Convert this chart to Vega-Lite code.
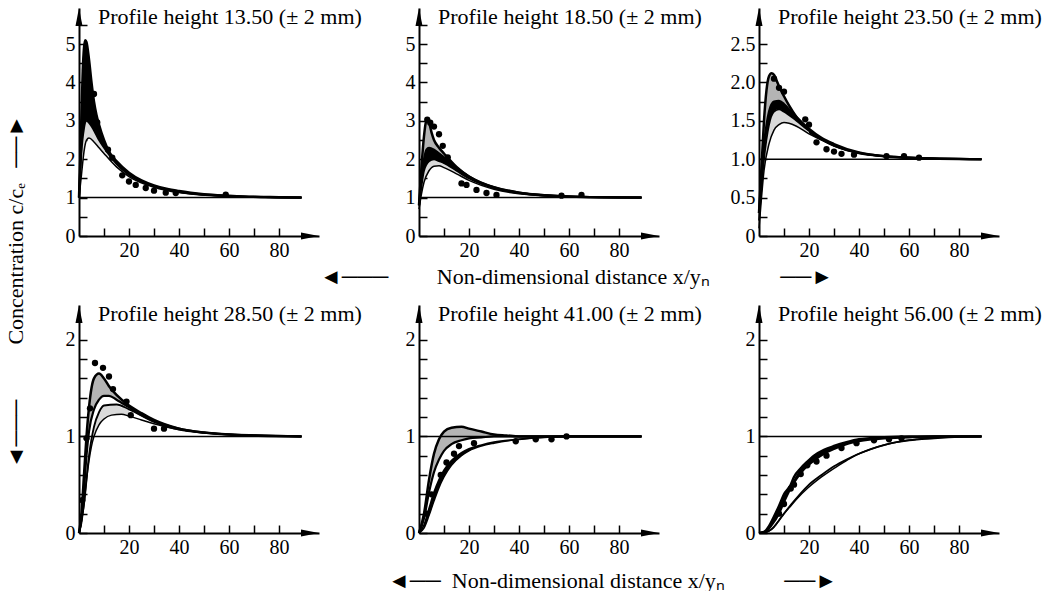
{
  "$schema": "https://vega.github.io/schema/vega-lite/v6.json",
  "padding": {"left": 4, "top": 6, "right": 0, "bottom": 0},
  "autosize": {"type": "pad"},
  "background": "white",
  "config": {
    "view": {"stroke": null},
    "font": "Liberation Serif",
    "title": {"anchor": "start", "frame": "group", "offset": 0, "dx": 19, "dy": 25, "baseline": "alphabetic", "fontSize": 22, "fontWeight": "normal", "font": "Liberation Serif", "color": "black"},
    "axis": {"grid": false, "domainColor": "black", "domainWidth": 2, "tickColor": "black", "tickWidth": 1.5, "tickSize": -8, "tickCount": 50, "labelFont": "Liberation Serif", "labelFontSize": 20, "labelColor": "black", "labelPadding": 12, "labelOverlap": false, "labelFlush": false, "titleFont": "Liberation Serif", "titleFontSize": 22, "titleFontWeight": "normal", "titleColor": "black"}
  },
  "datasets": {
    "bands": [
      {"p":1,"k":"solid","x":0.5,"lo":1.6,"hi":2.0},{"p":1,"k":"solid","x":1,"lo":2.2,"hi":3.2},{"p":1,"k":"solid","x":1.5,"lo":2.5,"hi":4.3},{"p":1,"k":"solid","x":2,"lo":2.8,"hi":4.9},{"p":1,"k":"solid","x":2.5,"lo":2.9,"hi":5.1},{"p":1,"k":"solid","x":3,"lo":3.0,"hi":5.05},{"p":1,"k":"solid","x":4,"lo":2.95,"hi":4.6},{"p":1,"k":"solid","x":5,"lo":2.85,"hi":4.0},{"p":1,"k":"solid","x":6,"lo":2.75,"hi":3.5},{"p":1,"k":"solid","x":7,"lo":2.62,"hi":3.15},{"p":1,"k":"solid","x":8,"lo":2.5,"hi":2.9},{"p":1,"k":"solid","x":10,"lo":2.3,"hi":2.5},{"p":1,"k":"solid","x":12,"lo":2.12,"hi":2.2},{"p":1,"k":"solid","x":15,"lo":1.88,"hi":1.95},{"p":1,"k":"solid","x":20,"lo":1.6,"hi":1.65},{"p":1,"k":"solid","x":30,"lo":1.3,"hi":1.32},{"p":1,"k":"solid","x":40,"lo":1.15,"hi":1.17},{"p":1,"k":"solid","x":60,"lo":1.04,"hi":1.05},
      {"p":1,"k":"stipple","x":1,"lo":1.6,"hi":2.2},{"p":1,"k":"stipple","x":2,"lo":2.2,"hi":2.8},{"p":1,"k":"stipple","x":3,"lo":2.5,"hi":3.0},{"p":1,"k":"stipple","x":4,"lo":2.55,"hi":2.95},{"p":1,"k":"stipple","x":6,"lo":2.45,"hi":2.75},{"p":1,"k":"stipple","x":8,"lo":2.3,"hi":2.5},{"p":1,"k":"stipple","x":10,"lo":2.15,"hi":2.3},{"p":1,"k":"stipple","x":15,"lo":1.8,"hi":1.88},{"p":1,"k":"stipple","x":20,"lo":1.55,"hi":1.6},

      {"p":2,"k":"hatch","x":1,"lo":1.5,"hi":1.8},{"p":2,"k":"hatch","x":2,"lo":2.0,"hi":2.6},{"p":2,"k":"hatch","x":3,"lo":2.25,"hi":3.0},{"p":2,"k":"hatch","x":4,"lo":2.3,"hi":2.95},{"p":2,"k":"hatch","x":5,"lo":2.28,"hi":2.7},{"p":2,"k":"hatch","x":6,"lo":2.25,"hi":2.5},{"p":2,"k":"hatch","x":8,"lo":2.15,"hi":2.3},{"p":2,"k":"hatch","x":10,"lo":2.05,"hi":2.15},{"p":2,"k":"hatch","x":15,"lo":1.78,"hi":1.8},
      {"p":2,"k":"solid","x":0,"lo":0.8,"hi":0.8},{"p":2,"k":"solid","x":1,"lo":1.3,"hi":1.5},{"p":2,"k":"solid","x":2,"lo":1.7,"hi":2.0},{"p":2,"k":"solid","x":4,"lo":1.95,"hi":2.3},{"p":2,"k":"solid","x":6,"lo":2.0,"hi":2.25},{"p":2,"k":"solid","x":8,"lo":1.95,"hi":2.15},{"p":2,"k":"solid","x":10,"lo":1.9,"hi":2.05},{"p":2,"k":"solid","x":15,"lo":1.7,"hi":1.78},{"p":2,"k":"solid","x":20,"lo":1.5,"hi":1.55},{"p":2,"k":"solid","x":30,"lo":1.25,"hi":1.27},{"p":2,"k":"solid","x":40,"lo":1.12,"hi":1.13},
      {"p":2,"k":"stipple","x":1,"lo":1.1,"hi":1.3},{"p":2,"k":"stipple","x":2,"lo":1.4,"hi":1.7},{"p":2,"k":"stipple","x":4,"lo":1.7,"hi":1.95},{"p":2,"k":"stipple","x":6,"lo":1.82,"hi":2.0},{"p":2,"k":"stipple","x":8,"lo":1.83,"hi":1.95},{"p":2,"k":"stipple","x":10,"lo":1.78,"hi":1.9},{"p":2,"k":"stipple","x":15,"lo":1.62,"hi":1.7},{"p":2,"k":"stipple","x":20,"lo":1.45,"hi":1.5},

      {"p":3,"k":"hatch","x":1,"lo":0.8,"hi":0.9},{"p":3,"k":"hatch","x":2,"lo":1.2,"hi":1.5},{"p":3,"k":"hatch","x":3,"lo":1.45,"hi":1.9},{"p":3,"k":"hatch","x":4,"lo":1.62,"hi":2.08},{"p":3,"k":"hatch","x":5,"lo":1.7,"hi":2.12},{"p":3,"k":"hatch","x":6,"lo":1.75,"hi":2.1},{"p":3,"k":"hatch","x":8,"lo":1.76,"hi":1.95},{"p":3,"k":"hatch","x":10,"lo":1.72,"hi":1.82},{"p":3,"k":"hatch","x":12,"lo":1.65,"hi":1.7},{"p":3,"k":"hatch","x":15,"lo":1.55,"hi":1.55},
      {"p":3,"k":"solid","x":0,"lo":0.1,"hi":0.3},{"p":3,"k":"solid","x":1,"lo":0.5,"hi":0.8},{"p":3,"k":"solid","x":2,"lo":1.0,"hi":1.2},{"p":3,"k":"solid","x":4,"lo":1.45,"hi":1.62},{"p":3,"k":"solid","x":6,"lo":1.62,"hi":1.75},{"p":3,"k":"solid","x":8,"lo":1.65,"hi":1.76},{"p":3,"k":"solid","x":10,"lo":1.62,"hi":1.72},{"p":3,"k":"solid","x":15,"lo":1.48,"hi":1.55},{"p":3,"k":"solid","x":20,"lo":1.34,"hi":1.4},{"p":3,"k":"solid","x":25,"lo":1.25,"hi":1.28},{"p":3,"k":"solid","x":30,"lo":1.17,"hi":1.2},{"p":3,"k":"solid","x":40,"lo":1.08,"hi":1.09},
      {"p":3,"k":"stipple","x":2,"lo":0.85,"hi":1.0},{"p":3,"k":"stipple","x":4,"lo":1.2,"hi":1.45},{"p":3,"k":"stipple","x":6,"lo":1.38,"hi":1.62},{"p":3,"k":"stipple","x":8,"lo":1.45,"hi":1.65},{"p":3,"k":"stipple","x":10,"lo":1.48,"hi":1.62},{"p":3,"k":"stipple","x":15,"lo":1.43,"hi":1.5},{"p":3,"k":"stipple","x":20,"lo":1.33,"hi":1.37},

      {"p":4,"k":"hatch","x":2,"lo":0.45,"hi":0.6},{"p":4,"k":"hatch","x":3,"lo":0.8,"hi":1.0},{"p":4,"k":"hatch","x":4,"lo":1.05,"hi":1.3},{"p":4,"k":"hatch","x":5,"lo":1.18,"hi":1.5},{"p":4,"k":"hatch","x":6,"lo":1.28,"hi":1.6},{"p":4,"k":"hatch","x":8,"lo":1.38,"hi":1.65},{"p":4,"k":"hatch","x":10,"lo":1.42,"hi":1.6},{"p":4,"k":"hatch","x":12,"lo":1.42,"hi":1.52},{"p":4,"k":"hatch","x":15,"lo":1.38,"hi":1.43},{"p":4,"k":"hatch","x":20,"lo":1.3,"hi":1.32},
      {"p":4,"k":"stipple","x":2,"lo":0.3,"hi":0.3},{"p":4,"k":"stipple","x":4,"lo":0.75,"hi":0.8},{"p":4,"k":"stipple","x":6,"lo":1.0,"hi":1.1},{"p":4,"k":"stipple","x":8,"lo":1.12,"hi":1.25},{"p":4,"k":"stipple","x":10,"lo":1.18,"hi":1.32},{"p":4,"k":"stipple","x":13,"lo":1.22,"hi":1.33},{"p":4,"k":"stipple","x":17,"lo":1.23,"hi":1.3},{"p":4,"k":"stipple","x":20,"lo":1.21,"hi":1.28},

      {"p":5,"k":"hatch","x":2,"lo":0.15,"hi":0.2},{"p":5,"k":"hatch","x":4,"lo":0.42,"hi":0.55},{"p":5,"k":"hatch","x":6,"lo":0.63,"hi":0.82},{"p":5,"k":"hatch","x":8,"lo":0.76,"hi":0.97},{"p":5,"k":"hatch","x":10,"lo":0.85,"hi":1.05},{"p":5,"k":"hatch","x":13,"lo":0.92,"hi":1.09},{"p":5,"k":"hatch","x":17,"lo":0.96,"hi":1.1},{"p":5,"k":"hatch","x":20,"lo":0.98,"hi":1.08},{"p":5,"k":"hatch","x":25,"lo":0.99,"hi":1.05},{"p":5,"k":"hatch","x":30,"lo":1.0,"hi":1.02},
      {"p":5,"k":"solid","x":2,"lo":0.05,"hi":0.08},{"p":5,"k":"solid","x":4,"lo":0.18,"hi":0.25},{"p":5,"k":"solid","x":6,"lo":0.33,"hi":0.42},{"p":5,"k":"solid","x":8,"lo":0.47,"hi":0.55},{"p":5,"k":"solid","x":10,"lo":0.58,"hi":0.65},{"p":5,"k":"solid","x":13,"lo":0.7,"hi":0.75},{"p":5,"k":"solid","x":17,"lo":0.8,"hi":0.83},{"p":5,"k":"solid","x":20,"lo":0.85,"hi":0.87},{"p":5,"k":"solid","x":25,"lo":0.9,"hi":0.91},{"p":5,"k":"solid","x":30,"lo":0.93,"hi":0.94},

      {"p":6,"k":"solid","x":4,"lo":0.04,"hi":0.07},{"p":6,"k":"solid","x":6,"lo":0.12,"hi":0.17},{"p":6,"k":"solid","x":8,"lo":0.2,"hi":0.28},{"p":6,"k":"solid","x":10,"lo":0.32,"hi":0.4},{"p":6,"k":"solid","x":12,"lo":0.43,"hi":0.47},{"p":6,"k":"solid","x":15,"lo":0.56,"hi":0.6},{"p":6,"k":"solid","x":18,"lo":0.66,"hi":0.7},{"p":6,"k":"solid","x":22,"lo":0.75,"hi":0.8},{"p":6,"k":"solid","x":26,"lo":0.82,"hi":0.86},{"p":6,"k":"solid","x":30,"lo":0.87,"hi":0.9},{"p":6,"k":"solid","x":35,"lo":0.92,"hi":0.94},{"p":6,"k":"solid","x":40,"lo":0.95,"hi":0.97},{"p":6,"k":"solid","x":50,"lo":0.98,"hi":0.99}
    ],
    "curves": [
      {"p":1,"c":"a","x":0,"y":1},{"p":1,"c":"a","x":0.5,"y":2},{"p":1,"c":"a","x":1,"y":3.2},{"p":1,"c":"a","x":1.5,"y":4.3},{"p":1,"c":"a","x":2,"y":4.9},{"p":1,"c":"a","x":2.5,"y":5.1},{"p":1,"c":"a","x":3,"y":5.05},{"p":1,"c":"a","x":4,"y":4.6},{"p":1,"c":"a","x":5,"y":4.0},{"p":1,"c":"a","x":6,"y":3.5},{"p":1,"c":"a","x":7,"y":3.15},{"p":1,"c":"a","x":8,"y":2.9},{"p":1,"c":"a","x":10,"y":2.5},{"p":1,"c":"a","x":12,"y":2.2},{"p":1,"c":"a","x":15,"y":1.95},{"p":1,"c":"a","x":20,"y":1.65},{"p":1,"c":"a","x":25,"y":1.45},{"p":1,"c":"a","x":30,"y":1.32},{"p":1,"c":"a","x":35,"y":1.23},{"p":1,"c":"a","x":40,"y":1.17},{"p":1,"c":"a","x":50,"y":1.09},{"p":1,"c":"a","x":60,"y":1.05},{"p":1,"c":"a","x":70,"y":1.02},{"p":1,"c":"a","x":80,"y":1.01},{"p":1,"c":"a","x":89,"y":1},
      {"p":1,"c":"b","x":0,"y":1},{"p":1,"c":"b","x":1,"y":2.5},{"p":1,"c":"b","x":2,"y":3.6},{"p":1,"c":"b","x":3,"y":3.9},{"p":1,"c":"b","x":4,"y":3.7},{"p":1,"c":"b","x":5,"y":3.4},{"p":1,"c":"b","x":6,"y":3.1},{"p":1,"c":"b","x":8,"y":2.7},{"p":1,"c":"b","x":10,"y":2.4},{"p":1,"c":"b","x":15,"y":1.9},{"p":1,"c":"b","x":20,"y":1.6},{"p":1,"c":"b","x":30,"y":1.3},{"p":1,"c":"b","x":40,"y":1.15},{"p":1,"c":"b","x":50,"y":1.08},{"p":1,"c":"b","x":60,"y":1.04},{"p":1,"c":"b","x":89,"y":1},
      {"p":1,"c":"c","x":0,"y":1},{"p":1,"c":"c","x":1,"y":2.2},{"p":1,"c":"c","x":2,"y":2.8},{"p":1,"c":"c","x":3,"y":3.0},{"p":1,"c":"c","x":4,"y":2.95},{"p":1,"c":"c","x":6,"y":2.75},{"p":1,"c":"c","x":8,"y":2.5},{"p":1,"c":"c","x":10,"y":2.3},{"p":1,"c":"c","x":15,"y":1.88},{"p":1,"c":"c","x":20,"y":1.6},{"p":1,"c":"c","x":30,"y":1.3},{"p":1,"c":"c","x":40,"y":1.15},{"p":1,"c":"c","x":60,"y":1.04},{"p":1,"c":"c","x":89,"y":1},
      {"p":1,"c":"d","x":0,"y":1},{"p":1,"c":"d","x":1,"y":1.6},{"p":1,"c":"d","x":2,"y":2.2},{"p":1,"c":"d","x":3,"y":2.5},{"p":1,"c":"d","x":4,"y":2.55},{"p":1,"c":"d","x":6,"y":2.45},{"p":1,"c":"d","x":8,"y":2.3},{"p":1,"c":"d","x":10,"y":2.15},{"p":1,"c":"d","x":15,"y":1.8},{"p":1,"c":"d","x":20,"y":1.55},{"p":1,"c":"d","x":30,"y":1.27},{"p":1,"c":"d","x":40,"y":1.13},{"p":1,"c":"d","x":60,"y":1.03},{"p":1,"c":"d","x":89,"y":1},

      {"p":2,"c":"a","x":0,"y":0.8},{"p":2,"c":"a","x":1,"y":1.8},{"p":2,"c":"a","x":2,"y":2.6},{"p":2,"c":"a","x":3,"y":3.0},{"p":2,"c":"a","x":4,"y":2.95},{"p":2,"c":"a","x":5,"y":2.7},{"p":2,"c":"a","x":6,"y":2.5},{"p":2,"c":"a","x":8,"y":2.3},{"p":2,"c":"a","x":10,"y":2.15},{"p":2,"c":"a","x":15,"y":1.8},{"p":2,"c":"a","x":20,"y":1.55},{"p":2,"c":"a","x":25,"y":1.38},{"p":2,"c":"a","x":30,"y":1.27},{"p":2,"c":"a","x":40,"y":1.13},{"p":2,"c":"a","x":50,"y":1.06},{"p":2,"c":"a","x":60,"y":1.03},{"p":2,"c":"a","x":70,"y":1.01},{"p":2,"c":"a","x":89,"y":1},
      {"p":2,"c":"b","x":0,"y":0.8},{"p":2,"c":"b","x":1,"y":1.5},{"p":2,"c":"b","x":2,"y":2.0},{"p":2,"c":"b","x":3,"y":2.25},{"p":2,"c":"b","x":4,"y":2.3},{"p":2,"c":"b","x":6,"y":2.25},{"p":2,"c":"b","x":8,"y":2.15},{"p":2,"c":"b","x":10,"y":2.05},{"p":2,"c":"b","x":15,"y":1.78},{"p":2,"c":"b","x":20,"y":1.55},{"p":2,"c":"b","x":30,"y":1.27},{"p":2,"c":"b","x":40,"y":1.13},{"p":2,"c":"b","x":60,"y":1.03},{"p":2,"c":"b","x":89,"y":1},
      {"p":2,"c":"c","x":0,"y":0.8},{"p":2,"c":"c","x":1,"y":1.3},{"p":2,"c":"c","x":2,"y":1.7},{"p":2,"c":"c","x":4,"y":1.95},{"p":2,"c":"c","x":6,"y":2.0},{"p":2,"c":"c","x":8,"y":1.95},{"p":2,"c":"c","x":10,"y":1.9},{"p":2,"c":"c","x":15,"y":1.7},{"p":2,"c":"c","x":20,"y":1.5},{"p":2,"c":"c","x":30,"y":1.25},{"p":2,"c":"c","x":40,"y":1.12},{"p":2,"c":"c","x":60,"y":1.03},{"p":2,"c":"c","x":89,"y":1},
      {"p":2,"c":"d","x":0,"y":0.7},{"p":2,"c":"d","x":1,"y":1.1},{"p":2,"c":"d","x":2,"y":1.4},{"p":2,"c":"d","x":4,"y":1.7},{"p":2,"c":"d","x":6,"y":1.82},{"p":2,"c":"d","x":8,"y":1.83},{"p":2,"c":"d","x":10,"y":1.78},{"p":2,"c":"d","x":15,"y":1.62},{"p":2,"c":"d","x":20,"y":1.45},{"p":2,"c":"d","x":30,"y":1.22},{"p":2,"c":"d","x":40,"y":1.1},{"p":2,"c":"d","x":60,"y":1.02},{"p":2,"c":"d","x":89,"y":1},

      {"p":3,"c":"a","x":0,"y":0.3},{"p":3,"c":"a","x":1,"y":0.9},{"p":3,"c":"a","x":2,"y":1.5},{"p":3,"c":"a","x":3,"y":1.9},{"p":3,"c":"a","x":4,"y":2.08},{"p":3,"c":"a","x":5,"y":2.12},{"p":3,"c":"a","x":6,"y":2.1},{"p":3,"c":"a","x":7,"y":2.03},{"p":3,"c":"a","x":8,"y":1.95},{"p":3,"c":"a","x":10,"y":1.82},{"p":3,"c":"a","x":12,"y":1.7},{"p":3,"c":"a","x":15,"y":1.55},{"p":3,"c":"a","x":20,"y":1.38},{"p":3,"c":"a","x":25,"y":1.26},{"p":3,"c":"a","x":30,"y":1.18},{"p":3,"c":"a","x":40,"y":1.08},{"p":3,"c":"a","x":50,"y":1.04},{"p":3,"c":"a","x":60,"y":1.02},{"p":3,"c":"a","x":89,"y":1},
      {"p":3,"c":"b","x":0,"y":0.3},{"p":3,"c":"b","x":1,"y":0.8},{"p":3,"c":"b","x":2,"y":1.2},{"p":3,"c":"b","x":3,"y":1.45},{"p":3,"c":"b","x":4,"y":1.62},{"p":3,"c":"b","x":6,"y":1.75},{"p":3,"c":"b","x":8,"y":1.76},{"p":3,"c":"b","x":10,"y":1.72},{"p":3,"c":"b","x":12,"y":1.65},{"p":3,"c":"b","x":15,"y":1.55},{"p":3,"c":"b","x":20,"y":1.4},{"p":3,"c":"b","x":25,"y":1.28},{"p":3,"c":"b","x":30,"y":1.2},{"p":3,"c":"b","x":40,"y":1.09},{"p":3,"c":"b","x":50,"y":1.04},{"p":3,"c":"b","x":60,"y":1.02},{"p":3,"c":"b","x":89,"y":1},
      {"p":3,"c":"c","x":0,"y":0.2},{"p":3,"c":"c","x":2,"y":1.0},{"p":3,"c":"c","x":4,"y":1.45},{"p":3,"c":"c","x":6,"y":1.62},{"p":3,"c":"c","x":8,"y":1.65},{"p":3,"c":"c","x":10,"y":1.62},{"p":3,"c":"c","x":15,"y":1.5},{"p":3,"c":"c","x":20,"y":1.37},{"p":3,"c":"c","x":30,"y":1.18},{"p":3,"c":"c","x":40,"y":1.08},{"p":3,"c":"c","x":60,"y":1.02},{"p":3,"c":"c","x":89,"y":1},
      {"p":3,"c":"d","x":0,"y":0.1},{"p":3,"c":"d","x":1,"y":0.5},{"p":3,"c":"d","x":2,"y":0.85},{"p":3,"c":"d","x":4,"y":1.2},{"p":3,"c":"d","x":6,"y":1.38},{"p":3,"c":"d","x":8,"y":1.45},{"p":3,"c":"d","x":10,"y":1.48},{"p":3,"c":"d","x":12,"y":1.47},{"p":3,"c":"d","x":15,"y":1.43},{"p":3,"c":"d","x":20,"y":1.33},{"p":3,"c":"d","x":25,"y":1.25},{"p":3,"c":"d","x":30,"y":1.17},{"p":3,"c":"d","x":40,"y":1.08},{"p":3,"c":"d","x":50,"y":1.04},{"p":3,"c":"d","x":60,"y":1.02},{"p":3,"c":"d","x":89,"y":1},

      {"p":4,"c":"a","x":0,"y":0},{"p":4,"c":"a","x":1,"y":0.2},{"p":4,"c":"a","x":2,"y":0.6},{"p":4,"c":"a","x":3,"y":1.0},{"p":4,"c":"a","x":4,"y":1.3},{"p":4,"c":"a","x":5,"y":1.5},{"p":4,"c":"a","x":6,"y":1.6},{"p":4,"c":"a","x":8,"y":1.65},{"p":4,"c":"a","x":10,"y":1.6},{"p":4,"c":"a","x":12,"y":1.52},{"p":4,"c":"a","x":15,"y":1.43},{"p":4,"c":"a","x":20,"y":1.32},{"p":4,"c":"a","x":25,"y":1.24},{"p":4,"c":"a","x":30,"y":1.17},{"p":4,"c":"a","x":40,"y":1.08},{"p":4,"c":"a","x":50,"y":1.04},{"p":4,"c":"a","x":60,"y":1.02},{"p":4,"c":"a","x":70,"y":1.01},{"p":4,"c":"a","x":89,"y":1},
      {"p":4,"c":"b","x":0,"y":0},{"p":4,"c":"b","x":1,"y":0.15},{"p":4,"c":"b","x":2,"y":0.45},{"p":4,"c":"b","x":3,"y":0.8},{"p":4,"c":"b","x":4,"y":1.05},{"p":4,"c":"b","x":6,"y":1.28},{"p":4,"c":"b","x":8,"y":1.38},{"p":4,"c":"b","x":10,"y":1.42},{"p":4,"c":"b","x":12,"y":1.42},{"p":4,"c":"b","x":15,"y":1.38},{"p":4,"c":"b","x":20,"y":1.3},{"p":4,"c":"b","x":25,"y":1.22},{"p":4,"c":"b","x":30,"y":1.16},{"p":4,"c":"b","x":40,"y":1.08},{"p":4,"c":"b","x":50,"y":1.04},{"p":4,"c":"b","x":60,"y":1.02},{"p":4,"c":"b","x":89,"y":1},
      {"p":4,"c":"c","x":0,"y":0},{"p":4,"c":"c","x":2,"y":0.3},{"p":4,"c":"c","x":4,"y":0.8},{"p":4,"c":"c","x":6,"y":1.1},{"p":4,"c":"c","x":8,"y":1.25},{"p":4,"c":"c","x":10,"y":1.32},{"p":4,"c":"c","x":15,"y":1.33},{"p":4,"c":"c","x":20,"y":1.28},{"p":4,"c":"c","x":30,"y":1.15},{"p":4,"c":"c","x":40,"y":1.07},{"p":4,"c":"c","x":60,"y":1.02},{"p":4,"c":"c","x":89,"y":1},
      {"p":4,"c":"d","x":0,"y":0},{"p":4,"c":"d","x":1,"y":0.1},{"p":4,"c":"d","x":2,"y":0.3},{"p":4,"c":"d","x":3,"y":0.55},{"p":4,"c":"d","x":4,"y":0.75},{"p":4,"c":"d","x":5,"y":0.9},{"p":4,"c":"d","x":6,"y":1.0},{"p":4,"c":"d","x":8,"y":1.12},{"p":4,"c":"d","x":10,"y":1.18},{"p":4,"c":"d","x":13,"y":1.22},{"p":4,"c":"d","x":17,"y":1.23},{"p":4,"c":"d","x":20,"y":1.21},{"p":4,"c":"d","x":25,"y":1.17},{"p":4,"c":"d","x":30,"y":1.13},{"p":4,"c":"d","x":40,"y":1.07},{"p":4,"c":"d","x":50,"y":1.04},{"p":4,"c":"d","x":60,"y":1.02},{"p":4,"c":"d","x":89,"y":1},

      {"p":5,"c":"a","x":0,"y":0},{"p":5,"c":"a","x":2,"y":0.2},{"p":5,"c":"a","x":4,"y":0.55},{"p":5,"c":"a","x":6,"y":0.82},{"p":5,"c":"a","x":8,"y":0.97},{"p":5,"c":"a","x":10,"y":1.05},{"p":5,"c":"a","x":13,"y":1.09},{"p":5,"c":"a","x":17,"y":1.1},{"p":5,"c":"a","x":20,"y":1.08},{"p":5,"c":"a","x":25,"y":1.05},{"p":5,"c":"a","x":30,"y":1.02},{"p":5,"c":"a","x":35,"y":1.01},{"p":5,"c":"a","x":40,"y":1.0},{"p":5,"c":"a","x":89,"y":1},
      {"p":5,"c":"b","x":0,"y":0},{"p":5,"c":"b","x":2,"y":0.15},{"p":5,"c":"b","x":4,"y":0.42},{"p":5,"c":"b","x":6,"y":0.63},{"p":5,"c":"b","x":8,"y":0.76},{"p":5,"c":"b","x":10,"y":0.85},{"p":5,"c":"b","x":13,"y":0.92},{"p":5,"c":"b","x":17,"y":0.96},{"p":5,"c":"b","x":20,"y":0.98},{"p":5,"c":"b","x":25,"y":0.99},{"p":5,"c":"b","x":30,"y":1.0},{"p":5,"c":"b","x":89,"y":1},
      {"p":5,"c":"c","x":0,"y":0},{"p":5,"c":"c","x":2,"y":0.08},{"p":5,"c":"c","x":4,"y":0.25},{"p":5,"c":"c","x":6,"y":0.42},{"p":5,"c":"c","x":8,"y":0.55},{"p":5,"c":"c","x":10,"y":0.65},{"p":5,"c":"c","x":13,"y":0.75},{"p":5,"c":"c","x":17,"y":0.83},{"p":5,"c":"c","x":20,"y":0.87},{"p":5,"c":"c","x":25,"y":0.91},{"p":5,"c":"c","x":30,"y":0.94},{"p":5,"c":"c","x":40,"y":0.97},{"p":5,"c":"c","x":50,"y":0.99},{"p":5,"c":"c","x":60,"y":1.0},{"p":5,"c":"c","x":89,"y":1},
      {"p":5,"c":"d","x":0,"y":0},{"p":5,"c":"d","x":2,"y":0.05},{"p":5,"c":"d","x":4,"y":0.18},{"p":5,"c":"d","x":6,"y":0.33},{"p":5,"c":"d","x":8,"y":0.47},{"p":5,"c":"d","x":10,"y":0.58},{"p":5,"c":"d","x":13,"y":0.7},{"p":5,"c":"d","x":17,"y":0.8},{"p":5,"c":"d","x":20,"y":0.85},{"p":5,"c":"d","x":25,"y":0.9},{"p":5,"c":"d","x":30,"y":0.93},{"p":5,"c":"d","x":40,"y":0.97},{"p":5,"c":"d","x":50,"y":0.99},{"p":5,"c":"d","x":60,"y":1.0},{"p":5,"c":"d","x":89,"y":1},

      {"p":6,"c":"a","x":0,"y":0},{"p":6,"c":"a","x":2,"y":0.01},{"p":6,"c":"a","x":4,"y":0.07},{"p":6,"c":"a","x":6,"y":0.17},{"p":6,"c":"a","x":8,"y":0.28},{"p":6,"c":"a","x":10,"y":0.4},{"p":6,"c":"a","x":12.7,"y":0.5},{"p":6,"c":"a","x":14,"y":0.58},{"p":6,"c":"a","x":16.7,"y":0.67},{"p":6,"c":"a","x":19,"y":0.73},{"p":6,"c":"a","x":22,"y":0.8},{"p":6,"c":"a","x":26,"y":0.86},{"p":6,"c":"a","x":30,"y":0.9},{"p":6,"c":"a","x":35,"y":0.94},{"p":6,"c":"a","x":40,"y":0.97},{"p":6,"c":"a","x":50,"y":0.99},{"p":6,"c":"a","x":60,"y":1.0},{"p":6,"c":"a","x":89,"y":1},
      {"p":6,"c":"b","x":0,"y":0},{"p":6,"c":"b","x":3,"y":0.02},{"p":6,"c":"b","x":5,"y":0.08},{"p":6,"c":"b","x":8,"y":0.2},{"p":6,"c":"b","x":10,"y":0.32},{"p":6,"c":"b","x":12,"y":0.43},{"p":6,"c":"b","x":15,"y":0.56},{"p":6,"c":"b","x":18,"y":0.66},{"p":6,"c":"b","x":22,"y":0.75},{"p":6,"c":"b","x":26,"y":0.82},{"p":6,"c":"b","x":30,"y":0.87},{"p":6,"c":"b","x":35,"y":0.92},{"p":6,"c":"b","x":40,"y":0.95},{"p":6,"c":"b","x":50,"y":0.98},{"p":6,"c":"b","x":60,"y":0.99},{"p":6,"c":"b","x":70,"y":1.0},{"p":6,"c":"b","x":89,"y":1},
      {"p":6,"c":"c","x":0,"y":0},{"p":6,"c":"c","x":3,"y":0.01},{"p":6,"c":"c","x":5,"y":0.04},{"p":6,"c":"c","x":8,"y":0.13},{"p":6,"c":"c","x":10,"y":0.2},{"p":6,"c":"c","x":13,"y":0.3},{"p":6,"c":"c","x":16,"y":0.39},{"p":6,"c":"c","x":20,"y":0.5},{"p":6,"c":"c","x":25,"y":0.6},{"p":6,"c":"c","x":30,"y":0.69},{"p":6,"c":"c","x":35,"y":0.76},{"p":6,"c":"c","x":40,"y":0.82},{"p":6,"c":"c","x":45,"y":0.87},{"p":6,"c":"c","x":50,"y":0.91},{"p":6,"c":"c","x":55,"y":0.94},{"p":6,"c":"c","x":60,"y":0.96},{"p":6,"c":"c","x":70,"y":0.98},{"p":6,"c":"c","x":80,"y":0.995},{"p":6,"c":"c","x":89,"y":1},
      {"p":6,"c":"d","x":0,"y":0},{"p":6,"c":"d","x":4,"y":0.02},{"p":6,"c":"d","x":6,"y":0.06},{"p":6,"c":"d","x":9.3,"y":0.18},{"p":6,"c":"d","x":12,"y":0.26},{"p":6,"c":"d","x":15,"y":0.35},{"p":6,"c":"d","x":19.3,"y":0.46},{"p":6,"c":"d","x":25,"y":0.58},{"p":6,"c":"d","x":30,"y":0.67},{"p":6,"c":"d","x":35,"y":0.75},{"p":6,"c":"d","x":39,"y":0.81},{"p":6,"c":"d","x":45,"y":0.87},{"p":6,"c":"d","x":50,"y":0.91},{"p":6,"c":"d","x":57,"y":0.95},{"p":6,"c":"d","x":63,"y":0.97},{"p":6,"c":"d","x":70,"y":0.99},{"p":6,"c":"d","x":79,"y":1.0},{"p":6,"c":"d","x":89,"y":1}
    ],
    "dots": [
      {"p":1,"x":6,"y":3.7},{"p":1,"x":7.3,"y":2.96},{"p":1,"x":11.6,"y":2.25},{"p":1,"x":13.3,"y":2.04},{"p":1,"x":17.3,"y":1.58},{"p":1,"x":20,"y":1.42},{"p":1,"x":22.7,"y":1.33},{"p":1,"x":26.7,"y":1.25},{"p":1,"x":30,"y":1.18},{"p":1,"x":34.7,"y":1.13},{"p":1,"x":38.7,"y":1.12},{"p":1,"x":58.7,"y":1.08},
      {"p":2,"x":3.3,"y":3.03},{"p":2,"x":4.5,"y":2.95},{"p":2,"x":6,"y":2.85},{"p":2,"x":8,"y":2.65},{"p":2,"x":9.5,"y":2.35},{"p":2,"x":11.5,"y":2.05},{"p":2,"x":17,"y":1.37},{"p":2,"x":19,"y":1.33},{"p":2,"x":23,"y":1.2},{"p":2,"x":27,"y":1.12},{"p":2,"x":31,"y":1.07},{"p":2,"x":57,"y":1.05},{"p":2,"x":65,"y":1.07},
      {"p":3,"x":6,"y":2.05},{"p":3,"x":8,"y":1.93},{"p":3,"x":10,"y":1.88},{"p":3,"x":18.5,"y":1.52},{"p":3,"x":20,"y":1.45},{"p":3,"x":23,"y":1.22},{"p":3,"x":27,"y":1.13},{"p":3,"x":30,"y":1.1},{"p":3,"x":33,"y":1.07},{"p":3,"x":38,"y":1.06},{"p":3,"x":51,"y":1.04},{"p":3,"x":58,"y":1.04},{"p":3,"x":64,"y":1.02},
      {"p":4,"x":1.3,"y":0.34},{"p":4,"x":3,"y":0.98},{"p":4,"x":4.4,"y":1.29},{"p":4,"x":6.4,"y":1.76},{"p":4,"x":9.6,"y":1.71},{"p":4,"x":12,"y":1.62},{"p":4,"x":13.6,"y":1.49},{"p":4,"x":19,"y":1.36},{"p":4,"x":20.7,"y":1.22},{"p":4,"x":30,"y":1.08},{"p":4,"x":34,"y":1.08},
      {"p":5,"x":3,"y":0.2},{"p":5,"x":5,"y":0.4},{"p":5,"x":8.7,"y":0.6},{"p":5,"x":11,"y":0.73},{"p":5,"x":14,"y":0.82},{"p":5,"x":16,"y":0.9},{"p":5,"x":22,"y":0.93},{"p":5,"x":38.7,"y":0.95},{"p":5,"x":46.7,"y":0.97},{"p":5,"x":53,"y":0.97},{"p":5,"x":59,"y":1.0},
      {"p":6,"x":8,"y":0.2},{"p":6,"x":10,"y":0.3},{"p":6,"x":12.7,"y":0.46},{"p":6,"x":14,"y":0.5},{"p":6,"x":16.7,"y":0.61},{"p":6,"x":19.3,"y":0.7},{"p":6,"x":23,"y":0.74},{"p":6,"x":27,"y":0.8},{"p":6,"x":33,"y":0.88},{"p":6,"x":39,"y":0.93},{"p":6,"x":46,"y":0.96},{"p":6,"x":52,"y":0.97},{"p":6,"x":57,"y":0.98}
    ]
  },
  "bounds": "flush",
  "columns": 3,
  "spacing": {"row": 69, "column": 100},
  "concat": [
    {
      "width": 240, "height": 228,
      "title": {"text": "Profile height 13.50 (± 2 mm)"},
      "layer": [
        {"data": {"name": "bands"}, "transform": [{"filter": "datum.p == 1"}],
         "mark": {"type": "area", "interpolate": "monotone", "opacity": 1},
         "encoding": {
           "x": {"field": "x", "type": "quantitative", "scale": {"domain": [0, 96], "nice": false}, "axis": {"values": [10,20,30,40,50,60,70,80], "tickCount": 50, "labelOverlap": false, "labelExpr": "datum.value % 20 == 0 ? format(datum.value, 'd') : ''", "title": null}},
           "y": {"field": "lo", "type": "quantitative", "scale": {"domain": [0, 5.94], "nice": false}, "axis": {"values": [0,0.5,1,1.5,2,2.5,3,3.5,4,4.5,5,5.5], "tickCount": 50, "labelOverlap": false, "labelExpr": "datum.value % 1 == 0 ? format(datum.value, 'd') : ''", "title": "◄───\u2003\u2003\u2002Concentration c/cₑ\u2002\u2009──►", "titleX": -52, "titleY": 283, "titleAngle": 270, "titleAlign": "center", "titleBaseline": "bottom"}},
           "y2": {"field": "hi"},
           "fill": {"field": "k", "type": "nominal", "scale": {"domain": ["solid","hatch","stipple"], "range": ["#000000","#b4b4b4","#dadada"]}, "legend": null}
         }},
        {"data": {"name": "curves"}, "transform": [{"filter": "datum.p == 1"}],
         "mark": {"type": "line", "color": "black", "interpolate": "monotone"},
         "encoding": {
           "x": {"field": "x", "type": "quantitative"},
           "y": {"field": "y", "type": "quantitative"},
           "detail": {"field": "c"},
           "strokeWidth": {"field": "c", "type": "nominal", "scale": {"domain": ["a","b","c","d"], "range": [2.5, 1.5, 2.5, 1.2]}, "legend": null}
         }},
        {"data": {"name": "dots"}, "transform": [{"filter": "datum.p == 1"}],
         "mark": {"type": "circle", "color": "black", "size": 40, "opacity": 1},
         "encoding": {"x": {"field": "x", "type": "quantitative"}, "y": {"field": "y", "type": "quantitative"}}},
        {"data": {"values": [{}]}, "mark": {"type": "rule", "color": "black", "strokeWidth": 1.5},
         "encoding": {"x": {"datum": 0}, "x2": {"datum": 89}, "y": {"datum": 1}}},
        {"data": {"values": [{}]}, "mark": {"type": "point", "shape": "M0,0 L0.35,1.8 L-0.35,1.8 Z", "filled": true, "color": "black", "size": 400, "opacity": 1, "clip": false},
         "encoding": {"x": {"datum": 0}, "y": {"datum": 5.94}}},
        {"data": {"values": [{}]}, "mark": {"type": "point", "shape": "M0,0 L-1.8,-0.35 L-1.8,0.35 Z", "filled": true, "color": "black", "size": 400, "opacity": 1, "clip": false},
         "encoding": {"x": {"datum": 96}, "y": {"datum": 0}}}
      ]
    },
    {
      "width": 240, "height": 228,
      "title": {"text": "Profile height 18.50 (± 2 mm)"},
      "layer": [
        {"data": {"name": "bands"}, "transform": [{"filter": "datum.p == 2"}],
         "mark": {"type": "area", "interpolate": "monotone", "opacity": 1},
         "encoding": {
           "x": {"field": "x", "type": "quantitative", "scale": {"domain": [0, 96], "nice": false}, "axis": {"values": [10,20,30,40,50,60,70,80], "tickCount": 50, "labelOverlap": false, "labelExpr": "datum.value % 20 == 0 ? format(datum.value, 'd') : ''", "title": "◄───\u2003\u2003\u2009Non-dimensional distance x/yₙ\u2003\u2003\u2003\u2009──►", "titleX": 157, "titleY": 47, "titleAlign": "center", "titleBaseline": "alphabetic"}},
           "y": {"field": "lo", "type": "quantitative", "scale": {"domain": [0, 5.94], "nice": false}, "axis": {"values": [0,0.5,1,1.5,2,2.5,3,3.5,4,4.5,5,5.5], "tickCount": 50, "labelOverlap": false, "labelExpr": "datum.value % 1 == 0 ? format(datum.value, 'd') : ''", "title": null}},
           "y2": {"field": "hi"},
           "fill": {"field": "k", "type": "nominal", "scale": {"domain": ["solid","hatch","stipple"], "range": ["#000000","#b4b4b4","#dadada"]}, "legend": null}
         }},
        {"data": {"name": "curves"}, "transform": [{"filter": "datum.p == 2"}],
         "mark": {"type": "line", "color": "black", "interpolate": "monotone"},
         "encoding": {
           "x": {"field": "x", "type": "quantitative"},
           "y": {"field": "y", "type": "quantitative"},
           "detail": {"field": "c"},
           "strokeWidth": {"field": "c", "type": "nominal", "scale": {"domain": ["a","b","c","d"], "range": [1.5, 2.5, 1.5, 1.2]}, "legend": null}
         }},
        {"data": {"name": "dots"}, "transform": [{"filter": "datum.p == 2"}],
         "mark": {"type": "circle", "color": "black", "size": 40, "opacity": 1},
         "encoding": {"x": {"field": "x", "type": "quantitative"}, "y": {"field": "y", "type": "quantitative"}}},
        {"data": {"values": [{}]}, "mark": {"type": "rule", "color": "black", "strokeWidth": 1.5},
         "encoding": {"x": {"datum": 0}, "x2": {"datum": 89}, "y": {"datum": 1}}},
        {"data": {"values": [{}]}, "mark": {"type": "point", "shape": "M0,0 L0.35,1.8 L-0.35,1.8 Z", "filled": true, "color": "black", "size": 400, "opacity": 1, "clip": false},
         "encoding": {"x": {"datum": 0}, "y": {"datum": 5.94}}},
        {"data": {"values": [{}]}, "mark": {"type": "point", "shape": "M0,0 L-1.8,-0.35 L-1.8,0.35 Z", "filled": true, "color": "black", "size": 400, "opacity": 1, "clip": false},
         "encoding": {"x": {"datum": 96}, "y": {"datum": 0}}}
      ]
    },
    {
      "width": 240, "height": 228,
      "title": {"text": "Profile height 23.50 (± 2 mm)"},
      "layer": [
        {"data": {"name": "bands"}, "transform": [{"filter": "datum.p == 3"}],
         "mark": {"type": "area", "interpolate": "monotone", "opacity": 1},
         "encoding": {
           "x": {"field": "x", "type": "quantitative", "scale": {"domain": [0, 96], "nice": false}, "axis": {"values": [10,20,30,40,50,60,70,80], "tickCount": 50, "labelOverlap": false, "labelExpr": "datum.value % 20 == 0 ? format(datum.value, 'd') : ''", "title": null}},
           "y": {"field": "lo", "type": "quantitative", "scale": {"domain": [0, 2.97], "nice": false}, "axis": {"values": [0,0.25,0.5,0.75,1,1.25,1.5,1.75,2,2.25,2.5], "tickCount": 50, "labelOverlap": false, "labelExpr": "datum.value % 0.5 == 0 ? (datum.value == 0 ? '0' : format(datum.value, '.1f')) : ''", "title": null}},
           "y2": {"field": "hi"},
           "fill": {"field": "k", "type": "nominal", "scale": {"domain": ["solid","hatch","stipple"], "range": ["#000000","#b4b4b4","#dadada"]}, "legend": null}
         }},
        {"data": {"name": "curves"}, "transform": [{"filter": "datum.p == 3"}],
         "mark": {"type": "line", "color": "black", "interpolate": "monotone"},
         "encoding": {
           "x": {"field": "x", "type": "quantitative"},
           "y": {"field": "y", "type": "quantitative"},
           "detail": {"field": "c"},
           "strokeWidth": {"field": "c", "type": "nominal", "scale": {"domain": ["a","b","c","d"], "range": [1.5, 2.5, 1.5, 1.2]}, "legend": null}
         }},
        {"data": {"name": "dots"}, "transform": [{"filter": "datum.p == 3"}],
         "mark": {"type": "circle", "color": "black", "size": 40, "opacity": 1},
         "encoding": {"x": {"field": "x", "type": "quantitative"}, "y": {"field": "y", "type": "quantitative"}}},
        {"data": {"values": [{}]}, "mark": {"type": "rule", "color": "black", "strokeWidth": 1.5},
         "encoding": {"x": {"datum": 0}, "x2": {"datum": 89}, "y": {"datum": 1}}},
        {"data": {"values": [{}]}, "mark": {"type": "point", "shape": "M0,0 L0.35,1.8 L-0.35,1.8 Z", "filled": true, "color": "black", "size": 400, "opacity": 1, "clip": false},
         "encoding": {"x": {"datum": 0}, "y": {"datum": 2.97}}},
        {"data": {"values": [{}]}, "mark": {"type": "point", "shape": "M0,0 L-1.8,-0.35 L-1.8,0.35 Z", "filled": true, "color": "black", "size": 400, "opacity": 1, "clip": false},
         "encoding": {"x": {"datum": 96}, "y": {"datum": 0}}}
      ]
    },
    {
      "width": 240, "height": 228,
      "title": {"text": "Profile height 28.50 (± 2 mm)"},
      "layer": [
        {"data": {"name": "bands"}, "transform": [{"filter": "datum.p == 4"}],
         "mark": {"type": "area", "interpolate": "monotone", "opacity": 1},
         "encoding": {
           "x": {"field": "x", "type": "quantitative", "scale": {"domain": [0, 96], "nice": false}, "axis": {"values": [10,20,30,40,50,60,70,80], "tickCount": 50, "labelOverlap": false, "labelExpr": "datum.value % 20 == 0 ? format(datum.value, 'd') : ''", "title": null}},
           "y": {"field": "lo", "type": "quantitative", "scale": {"domain": [0, 2.36], "nice": false}, "axis": {"values": [0,0.2,0.4,0.6,0.8,1,1.2,1.4,1.6,1.8,2], "tickCount": 50, "labelOverlap": false, "labelExpr": "datum.value % 1 == 0 ? format(datum.value, 'd') : ''", "title": null}},
           "y2": {"field": "hi"},
           "fill": {"field": "k", "type": "nominal", "scale": {"domain": ["solid","hatch","stipple"], "range": ["#000000","#b4b4b4","#dadada"]}, "legend": null}
         }},
        {"data": {"name": "curves"}, "transform": [{"filter": "datum.p == 4"}],
         "mark": {"type": "line", "color": "black", "interpolate": "monotone"},
         "encoding": {
           "x": {"field": "x", "type": "quantitative"},
           "y": {"field": "y", "type": "quantitative"},
           "detail": {"field": "c"},
           "strokeWidth": {"field": "c", "type": "nominal", "scale": {"domain": ["a","b","c","d"], "range": [1.8, 3, 1.2, 1.2]}, "legend": null}
         }},
        {"data": {"name": "dots"}, "transform": [{"filter": "datum.p == 4"}],
         "mark": {"type": "circle", "color": "black", "size": 40, "opacity": 1},
         "encoding": {"x": {"field": "x", "type": "quantitative"}, "y": {"field": "y", "type": "quantitative"}}},
        {"data": {"values": [{}]}, "mark": {"type": "rule", "color": "black", "strokeWidth": 1.5},
         "encoding": {"x": {"datum": 0}, "x2": {"datum": 89}, "y": {"datum": 1}}},
        {"data": {"values": [{}]}, "mark": {"type": "point", "shape": "M0,0 L0.35,1.8 L-0.35,1.8 Z", "filled": true, "color": "black", "size": 400, "opacity": 1, "clip": false},
         "encoding": {"x": {"datum": 0}, "y": {"datum": 2.36}}},
        {"data": {"values": [{}]}, "mark": {"type": "point", "shape": "M0,0 L-1.8,-0.35 L-1.8,0.35 Z", "filled": true, "color": "black", "size": 400, "opacity": 1, "clip": false},
         "encoding": {"x": {"datum": 96}, "y": {"datum": 0}}}
      ]
    },
    {
      "width": 240, "height": 228,
      "title": {"text": "Profile height 41.00 (± 2 mm)"},
      "layer": [
        {"data": {"name": "bands"}, "transform": [{"filter": "datum.p == 5"}],
         "mark": {"type": "area", "interpolate": "monotone", "opacity": 1},
         "encoding": {
           "x": {"field": "x", "type": "quantitative", "scale": {"domain": [0, 96], "nice": false}, "axis": {"values": [10,20,30,40,50,60,70,80], "tickCount": 50, "labelOverlap": false, "labelExpr": "datum.value % 20 == 0 ? format(datum.value, 'd') : ''", "title": "◄──\u2002Non-dimensional distance x/yₙ\u2003\u2003\u2002\u2009──►", "titleX": 193, "titleY": 54, "titleAlign": "center", "titleBaseline": "alphabetic"}},
           "y": {"field": "lo", "type": "quantitative", "scale": {"domain": [0, 2.36], "nice": false}, "axis": {"values": [0,0.2,0.4,0.6,0.8,1,1.2,1.4,1.6,1.8,2], "tickCount": 50, "labelOverlap": false, "labelExpr": "datum.value % 1 == 0 ? format(datum.value, 'd') : ''", "title": null}},
           "y2": {"field": "hi"},
           "fill": {"field": "k", "type": "nominal", "scale": {"domain": ["solid","hatch","stipple"], "range": ["#000000","#b4b4b4","#dadada"]}, "legend": null}
         }},
        {"data": {"name": "curves"}, "transform": [{"filter": "datum.p == 5"}],
         "mark": {"type": "line", "color": "black", "interpolate": "monotone"},
         "encoding": {
           "x": {"field": "x", "type": "quantitative"},
           "y": {"field": "y", "type": "quantitative"},
           "detail": {"field": "c"},
           "strokeWidth": {"field": "c", "type": "nominal", "scale": {"domain": ["a","b","c","d"], "range": [1.5, 1.5, 2.5, 1.2]}, "legend": null}
         }},
        {"data": {"name": "dots"}, "transform": [{"filter": "datum.p == 5"}],
         "mark": {"type": "circle", "color": "black", "size": 40, "opacity": 1},
         "encoding": {"x": {"field": "x", "type": "quantitative"}, "y": {"field": "y", "type": "quantitative"}}},
        {"data": {"values": [{}]}, "mark": {"type": "rule", "color": "black", "strokeWidth": 1.5},
         "encoding": {"x": {"datum": 0}, "x2": {"datum": 89}, "y": {"datum": 1}}},
        {"data": {"values": [{}]}, "mark": {"type": "point", "shape": "M0,0 L0.35,1.8 L-0.35,1.8 Z", "filled": true, "color": "black", "size": 400, "opacity": 1, "clip": false},
         "encoding": {"x": {"datum": 0}, "y": {"datum": 2.36}}},
        {"data": {"values": [{}]}, "mark": {"type": "point", "shape": "M0,0 L-1.8,-0.35 L-1.8,0.35 Z", "filled": true, "color": "black", "size": 400, "opacity": 1, "clip": false},
         "encoding": {"x": {"datum": 96}, "y": {"datum": 0}}}
      ]
    },
    {
      "width": 240, "height": 228,
      "title": {"text": "Profile height 56.00 (± 2 mm)"},
      "layer": [
        {"data": {"name": "bands"}, "transform": [{"filter": "datum.p == 6"}],
         "mark": {"type": "area", "interpolate": "monotone", "opacity": 1},
         "encoding": {
           "x": {"field": "x", "type": "quantitative", "scale": {"domain": [0, 96], "nice": false}, "axis": {"values": [10,20,30,40,50,60,70,80], "tickCount": 50, "labelOverlap": false, "labelExpr": "datum.value % 20 == 0 ? format(datum.value, 'd') : ''", "title": null}},
           "y": {"field": "lo", "type": "quantitative", "scale": {"domain": [0, 2.36], "nice": false}, "axis": {"values": [0,0.2,0.4,0.6,0.8,1,1.2,1.4,1.6,1.8,2], "tickCount": 50, "labelOverlap": false, "labelExpr": "datum.value % 1 == 0 ? format(datum.value, 'd') : ''", "title": null}},
           "y2": {"field": "hi"},
           "fill": {"field": "k", "type": "nominal", "scale": {"domain": ["solid","hatch","stipple"], "range": ["#000000","#b4b4b4","#dadada"]}, "legend": null}
         }},
        {"data": {"name": "curves"}, "transform": [{"filter": "datum.p == 6"}],
         "mark": {"type": "line", "color": "black", "interpolate": "monotone"},
         "encoding": {
           "x": {"field": "x", "type": "quantitative"},
           "y": {"field": "y", "type": "quantitative"},
           "detail": {"field": "c"},
           "strokeWidth": {"field": "c", "type": "nominal", "scale": {"domain": ["a","b","c","d"], "range": [1.5, 2.5, 1.5, 1.5]}, "legend": null}
         }},
        {"data": {"name": "dots"}, "transform": [{"filter": "datum.p == 6"}],
         "mark": {"type": "circle", "color": "black", "size": 40, "opacity": 1},
         "encoding": {"x": {"field": "x", "type": "quantitative"}, "y": {"field": "y", "type": "quantitative"}}},
        {"data": {"values": [{}]}, "mark": {"type": "rule", "color": "black", "strokeWidth": 1.5},
         "encoding": {"x": {"datum": 0}, "x2": {"datum": 89}, "y": {"datum": 1}}},
        {"data": {"values": [{}]}, "mark": {"type": "point", "shape": "M0,0 L0.35,1.8 L-0.35,1.8 Z", "filled": true, "color": "black", "size": 400, "opacity": 1, "clip": false},
         "encoding": {"x": {"datum": 0}, "y": {"datum": 2.36}}},
        {"data": {"values": [{}]}, "mark": {"type": "point", "shape": "M0,0 L-1.8,-0.35 L-1.8,0.35 Z", "filled": true, "color": "black", "size": 400, "opacity": 1, "clip": false},
         "encoding": {"x": {"datum": 96}, "y": {"datum": 0}}}
      ]
    }
  ]
}
